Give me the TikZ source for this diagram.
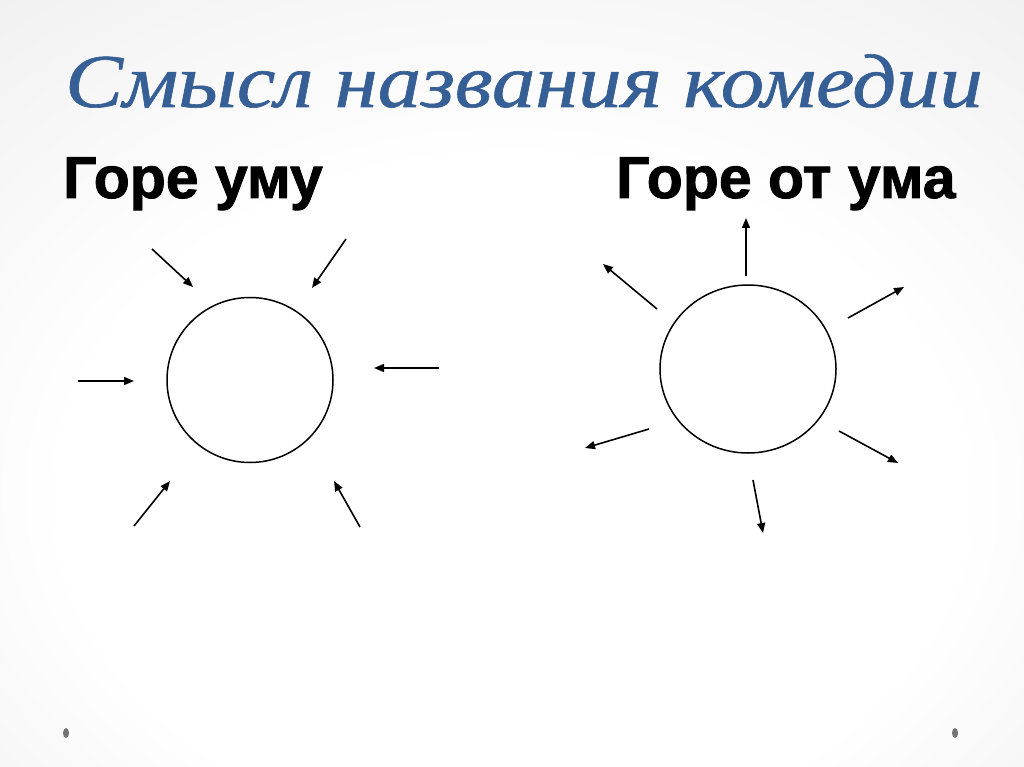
\documentclass[tikz,border=0pt]{standalone}
\usepackage{fontspec}
\setmainfont{Liberation Serif}
\newfontfamily\titlefont[FakeBold=0.8]{Liberation Serif}
\newfontfamily\headfont[FakeBold=1.5]{Liberation Sans}
\usetikzlibrary{arrows.meta,shapes.geometric}

\definecolor{title blue}{RGB}{54,95,150}
\colorlet{dot grey}{black!55}
\pgfdeclareradialshading{page}{\pgfpoint{0bp}{-12bp}}{color(0bp)=(white); color(22bp)=(white); color(40bp)=(black!6); color(58bp)=(black!16)}
\tikzset{
  ring/.style={draw, ellipse, line width=1.5pt, inner sep=0pt},
  ray/.style={draw, line width=1.6pt, -{Triangle[length=10pt,width=8pt]}}
  }
\tikzstyle{caption} = [font=\titlefont\itshape\fontsize{76}{76}\selectfont, text=title blue, anchor=base, inner sep=0pt]
\tikzstyle{heading} = [font=\headfont\bfseries\fontsize{59}{59}\selectfont, anchor=base west, inner sep=0pt]
\tikzstyle{marker} = [ellipse, fill=dot grey, minimum width=6pt, minimum height=10pt, inner sep=0pt]
\def\inrays{152/249/193/287, 346/239/312/288, 78/381/134/381, 439/368/374/368, 134/526/170/481, 360/527/334/481}
\def\outrays{746/276/746/218, 657/309/603/264, 848/318/904/287, 649/429/585/448, 839/431/898/463, 753/480/763/533}

\begin{document}
\begin{tikzpicture}[x=1pt, y=-1pt]

    % The page and its shading
    \useasboundingbox (0,0) rectangle (1024,767);
    \shade[shading=page] (0,0) rectangle (1024,767);

    % Title and the two headings
    \node[caption] (title) at (524,107) {\scalebox{1.14}[1]{Смысл названия комедии}};
    \node[heading] (toMind) at (63,198) {Горе уму};
    \node[heading] (fromMind) at (616,198) {Горе от ума};

    % The two circles
    \node[ring, minimum width=166pt, minimum height=165pt] (inCircle) at (250,380) {};
    \node[ring, minimum width=176pt, minimum height=168pt] (outCircle) at (748,369) {};

    % Rays pointing into the left circle
    \foreach \xa/\ya/\xb/\yb [count=\i] in \inrays {
      \coordinate (inStart\i) at (\xa,\ya);
      \coordinate (inEnd\i) at (\xb,\yb);
      \path[ray] (inStart\i) -- (inEnd\i);
    }

    % Rays pointing out of the right circle
    \foreach \xa/\ya/\xb/\yb [count=\i] in \outrays {
      \coordinate (outStart\i) at (\xa,\ya);
      \coordinate (outEnd\i) at (\xb,\yb);
      \path[ray] (outStart\i) -- (outEnd\i);
    }

    % Corner dots
    \foreach \xc/\name in {66/dotLeft, 955/dotRight}
      \node[marker] (\name) at (\xc,733) {};
\end{tikzpicture}
\end{document}
